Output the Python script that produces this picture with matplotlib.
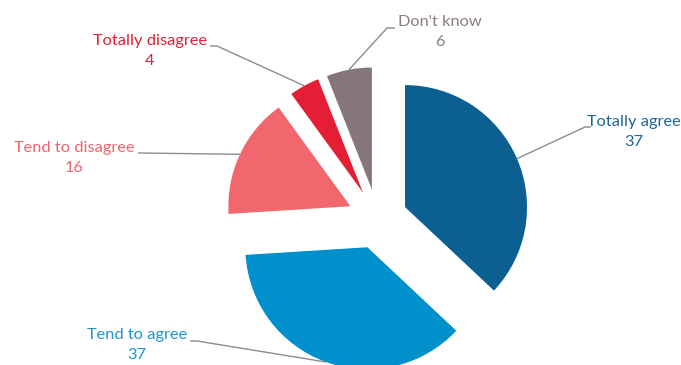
import numpy as np
import matplotlib.pyplot as plt

categories = ["Totally agree", "Tend to agree", "Tend to disagree", "Totally disagree", "Don't know"]
values = [37, 37, 16, 4, 6]
colors = ["#0b5f91", "#0090cc", "#f2666e", "#e31e35", "#857679"]
text_colors = ["#1d6796", "#1a96cc", "#f0646c", "#de2036", "#8a7f80"]

# layout (pixels, y measured from bottom)
W, H = 681, 365
center = (377.5, 146)
radius = 122
explode_px = 30
label_pos = [(634, 233), (137, 20), (74, 207), (150, 314), (440, 333)]
elbows = [
    [(585, 238), (591, 238)],
    [(197, 24), (190, 24)],
    [(138, 212)],
    [(217, 319), (210, 319)],
    [(387, 337), (395, 337)],
]

plt.rcParams['font.family'] = ['Lato', 'DejaVu Sans']
fig = plt.figure(figsize=(W / 100, H / 100), dpi=100)
ax = fig.add_axes([0, 0, 1, 1])

# matplotlib's explode offset is in data units here
wedges, _ = ax.pie(values, colors=colors, startangle=90, counterclock=False,
                   radius=radius, center=center,
                   explode=[explode_px] * len(values),
                   wedgeprops=dict(linewidth=0))

for w, cat, val, tc, pos, el in zip(wedges, categories, values, text_colors, label_pos, elbows):
    mid = np.deg2rad((w.theta1 + w.theta2) / 2)
    cx, cy = w.center
    ax_pt = (cx + w.r * np.cos(mid), cy + w.r * np.sin(mid))
    pts = [ax_pt] + el
    ax.plot([p[0] for p in pts], [p[1] for p in pts], color="#8c8c8c", lw=1.0,
            solid_capstyle='butt')
    ax.text(pos[0], pos[1], f"{cat}\n{val}", ha='center', va='center',
            color=tc, fontsize=11.8, linespacing=1.55)

ax.set_xlim(0, W)
ax.set_ylim(0, H)
ax.set_aspect('equal')
ax.axis('off')

fig.savefig("out.png", dpi=100)
